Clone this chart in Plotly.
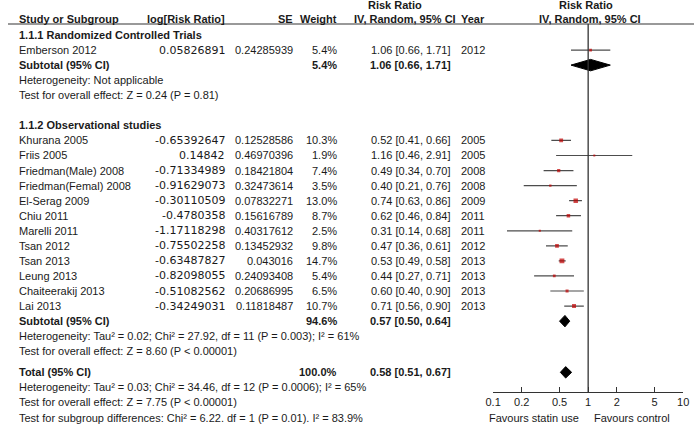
import plotly.graph_objects as go

# ---------------- data ----------------
studies = ["Emberson 2012",
           "Khurana 2005", "Friis 2005", "Friedman(Male) 2008", "Friedman(Femal) 2008",
           "El-Serag 2009", "Chiu 2011", "Marelli 2011", "Tsan 2012", "Tsan 2013",
           "Leung 2013", "Chaiteerakij 2013", "Lai 2013"]
group = [0, 1, 1, 1, 1, 1, 1, 1, 1, 1, 1, 1, 1]
log_rr = [0.05826891,
          -0.65392647, 0.14842, -0.71334989, -0.91629073, -0.30110509, -0.4780358,
          -1.17118298, -0.75502258, -0.63487827, -0.82098055, -0.51082562, -0.34249031]
se = [0.24285939,
      0.12528586, 0.46970396, 0.18421804, 0.32473614, 0.07832271, 0.15616789,
      0.40317612, 0.13452932, 0.043016, 0.24093408, 0.20686995, 0.11818487]
weight = [5.4, 10.3, 1.9, 7.4, 3.5, 13.0, 8.7, 2.5, 9.8, 14.7, 5.4, 6.5, 10.7]
rr = [1.06, 0.52, 1.16, 0.49, 0.40, 0.74, 0.62, 0.31, 0.47, 0.53, 0.44, 0.60, 0.71]
ci_lo = [0.66, 0.41, 0.46, 0.34, 0.21, 0.63, 0.46, 0.14, 0.36, 0.49, 0.27, 0.40, 0.56]
ci_hi = [1.71, 0.66, 2.91, 0.70, 0.76, 0.86, 0.84, 0.68, 0.61, 0.58, 0.71, 0.90, 0.90]
years = [2012, 2005, 2005, 2008, 2008, 2009, 2011, 2011, 2012, 2013, 2013, 2013, 2013]

group_names = ["1.1.1 Randomized Controlled Trials", "1.1.2 Observational studies"]
sub_weight = [5.4, 94.6]
sub_rr = [1.06, 0.57]
sub_lo = [0.66, 0.50]
sub_hi = [1.71, 0.64]
sub_het = ["Heterogeneity: Not applicable",
           "Heterogeneity: Tau² = 0.02; Chi² = 27.92, df = 11 (P = 0.003); I² = 61%"]
sub_test = ["Test for overall effect: Z = 0.24 (P = 0.81)",
            "Test for overall effect: Z = 8.60 (P < 0.00001)"]

total_weight = 100.0
total_rr, total_lo, total_hi = 0.58, 0.51, 0.67
total_het = "Heterogeneity: Tau² = 0.03; Chi² = 34.46, df = 12 (P = 0.0006); I² = 65%"
total_test = "Test for overall effect: Z = 7.75 (P < 0.00001)"
subgroup_test = "Test for subgroup differences: Chi² = 6.22. df = 1 (P = 0.01). I² = 83.9%"

tick_vals = [0.1, 0.2, 0.5, 1, 2, 5, 10]
tick_text = ["0.1", "0.2", "0.5", "1", "2", "5", "10"]
favours_left = "Favours statin use"
favours_right = "Favours control"

# ---------------- layout helpers ----------------
W, H = 700, 433
Y0, DY = 35.0, 15.06          # pixel of row 0, pixel per row
def px2row(p):
    return (p - Y0) / DY

FONT = "Liberation Sans, Arial, sans-serif"
NUMFONT = "DejaVu Sans, Liberation Sans, sans-serif"
FS = 11
TXT = "#1a1a1a"

X_STUDY = 10
X_LOG = 222
X_SE = 292
X_W = 337
X_RR = 411
X_YEAR = 461

fig = go.Figure()
ann = []

def text(x, r, s, anchor="left", bold=False, family=FONT, size=FS):
    ann.append(dict(x=x, y=r, xref="x", yref="y", text=f"<b>{s}</b>" if bold else s,
                    showarrow=False, xanchor=anchor, yanchor="middle",
                    font=dict(family=family, size=size, color=TXT), borderpad=0))

def fmt_ci(a, b, c):
    return f"{a:.2f} [{b:.2f}, {c:.2f}]"

# headers
text(X_STUDY, px2row(19), "Study or Subgroup", bold=True)
text(X_LOG, px2row(19), "log[Risk Ratio]", "right", True)
text(X_SE, px2row(19), "SE", "right", True)
text(X_W, px2row(19), "Weight", "right", True)
text(395, px2row(5), "Risk Ratio", "center", True)
text(405, px2row(19), "IV, Random, 95% CI", "center", True)
text(X_YEAR, px2row(19), "Year", "left", True)
text(590, px2row(5), "Risk Ratio", "center", True)
text(594, px2row(19), "IV, Random, 95% CI", "center", True)

# rows
study_rows = []
diamonds = []
r = 0
for g in range(2):
    text(X_STUDY, r, group_names[g], bold=True)
    r += 1
    for i in range(len(studies)):
        if group[i] != g:
            continue
        text(X_STUDY, r, studies[i])
        text(X_LOG, r, str(log_rr[i]), "right", family=NUMFONT, size=11)
        text(X_SE, r, str(se[i]), "right")
        text(X_W, r, f"{weight[i]:.1f}%", "right")
        text(X_RR, r, fmt_ci(rr[i], ci_lo[i], ci_hi[i]), "center")
        text(X_YEAR, r, str(years[i]))
        study_rows.append((i, r))
        r += 1
    text(X_STUDY, r, "Subtotal (95% CI)", bold=True)
    text(X_W, r, f"{sub_weight[g]:.1f}%", "right", True)
    text(X_RR, r, fmt_ci(sub_rr[g], sub_lo[g], sub_hi[g]), "center", True)
    diamonds.append((sub_rr[g], sub_lo[g], sub_hi[g], r))
    r += 1
    text(X_STUDY, r, sub_het[g]); r += 1
    text(X_STUDY, r, sub_test[g]); r += 1
    r += 1

rt = r - 0.6
text(X_STUDY, rt, "Total (95% CI)", bold=True)
text(X_W, rt, f"{total_weight:.1f}%", "right", True)
text(X_RR, rt, fmt_ci(total_rr, total_lo, total_hi), "center", True)
diamonds.append((total_rr, total_lo, total_hi, rt))
text(X_STUDY, rt + 1, total_het)
text(X_STUDY, rt + 2, total_test)
text(X_STUDY, rt + 3, subgroup_test)

text(584, px2row(418), favours_left, "right")
text(597, px2row(418), favours_right, "left")

# CI lines
for i, rr_row in study_rows:
    fig.add_trace(go.Scatter(x=[ci_lo[i], ci_hi[i]], y=[rr_row, rr_row], mode="lines",
                             line=dict(color="#4d4d4d", width=1.2),
                             xaxis="x2", yaxis="y", hoverinfo="skip", showlegend=False))
# squares
fig.add_trace(go.Scatter(x=[rr[i] for i, _ in study_rows], y=[rw for _, rw in study_rows],
                         mode="markers", xaxis="x2", yaxis="y",
                         marker=dict(symbol="square", color="#c00000",
                                     size=[1.6 + 0.22 * weight[i] for i, _ in study_rows],
                                     line=dict(width=0)),
                         showlegend=False, hoverinfo="skip"))
# diamonds
hh = 0.38
for est, lo, hi, rw in diamonds:
    fig.add_trace(go.Scatter(x=[lo, est, hi, est, lo], y=[rw, rw - hh, rw, rw + hh, rw],
                             mode="lines", fill="toself", fillcolor="black",
                             line=dict(color="black", width=1), xaxis="x2", yaxis="y",
                             showlegend=False, hoverinfo="skip"))

axis_row = px2row(392)
shapes = [
    dict(type="line", xref="paper", yref="y", x0=0, x1=1, y0=px2row(24), y1=px2row(24),
         line=dict(color="#777777", width=1.5)),
    dict(type="line", xref="x2", yref="y", x0=1, x1=1, y0=px2row(24), y1=axis_row,
         line=dict(color="#333333", width=1.3)),
]

fig.update_layout(
    width=W, height=H, margin=dict(l=0, r=0, t=0, b=0),
    paper_bgcolor="white", plot_bgcolor="rgba(0,0,0,0)",
    xaxis=dict(range=[0, W], domain=[0, 1], visible=False, fixedrange=True),
    xaxis2=dict(type="log", range=[-1, 1], domain=[495 / W, 689 / W],
                anchor="free", position=(H - 392) / H,
                showline=True, linecolor="#333333", linewidth=1,
                ticks="inside", ticklen=5, tickcolor="#333333", tickwidth=1,
                tickvals=tick_vals, ticktext=tick_text, showgrid=False, zeroline=False,
                tickfont=dict(family=FONT, size=FS, color=TXT), fixedrange=True),
    yaxis=dict(range=[px2row(H), px2row(0)], domain=[0, 1], visible=False, fixedrange=True),
    annotations=ann, shapes=shapes, hovermode=False,
)

fig.write_html("out.html", config={"displayModeBar": False},
               post_script="document.body.style.margin='0';")
